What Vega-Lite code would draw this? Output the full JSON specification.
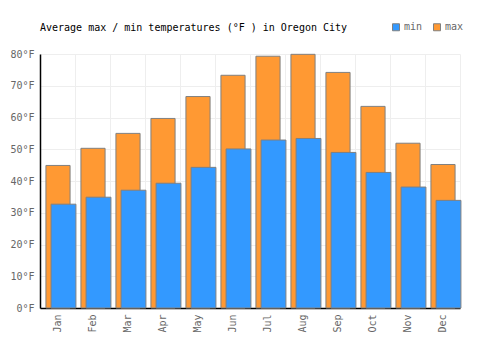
{
  "$schema": "https://vega.github.io/schema/vega-lite/v6.json",
  "autosize": {"type": "none"},
  "width": 420,
  "height": 254,
  "padding": {"left": 40, "top": 54, "right": 40, "bottom": 42},
  "background": "white",
  "title": {
    "text": "Average max / min temperatures (°F ) in Oregon City",
    "anchor": "start",
    "frame": "group",
    "orient": "top",
    "offset": -11,
    "font": "DejaVu Sans Mono",
    "fontSize": 10,
    "fontWeight": "normal",
    "color": "#000000"
  },
  "data": {
    "values": [
      {"month": "Jan", "series": "max", "temp": 44.9}, {"month": "Jan", "series": "min", "temp": 32.7},
      {"month": "Feb", "series": "max", "temp": 50.3}, {"month": "Feb", "series": "min", "temp": 34.9},
      {"month": "Mar", "series": "max", "temp": 55.0}, {"month": "Mar", "series": "min", "temp": 37.1},
      {"month": "Apr", "series": "max", "temp": 59.7}, {"month": "Apr", "series": "min", "temp": 39.3},
      {"month": "May", "series": "max", "temp": 66.6}, {"month": "May", "series": "min", "temp": 44.3},
      {"month": "Jun", "series": "max", "temp": 73.3}, {"month": "Jun", "series": "min", "temp": 50.1},
      {"month": "Jul", "series": "max", "temp": 79.3}, {"month": "Jul", "series": "min", "temp": 52.9},
      {"month": "Aug", "series": "max", "temp": 79.9}, {"month": "Aug", "series": "min", "temp": 53.4},
      {"month": "Sep", "series": "max", "temp": 74.2}, {"month": "Sep", "series": "min", "temp": 49.0},
      {"month": "Oct", "series": "max", "temp": 63.5}, {"month": "Oct", "series": "min", "temp": 42.7},
      {"month": "Nov", "series": "max", "temp": 51.9}, {"month": "Nov", "series": "min", "temp": 38.1},
      {"month": "Dec", "series": "max", "temp": 45.2}, {"month": "Dec", "series": "min", "temp": 33.9}
    ]
  },
  "encoding": {
    "x": {
      "field": "month", "type": "nominal", "sort": null,
      "scale": {"paddingInner": 0, "paddingOuter": 0},
      "axis": {
        "title": null, "labelAngle": 270, "ticks": false, "tickBand": "extent",
        "grid": true, "gridColor": "#eeeeee", "gridWidth": 1,
        "domainColor": "#000000", "domainWidth": 1.5,
        "labelFont": "DejaVu Sans Mono", "labelFontSize": 10, "labelColor": "#666666",
        "labelPadding": 6
      }
    },
    "y": {
      "field": "temp", "type": "quantitative",
      "scale": {"domain": [0, 80], "nice": false},
      "axis": {
        "title": null, "values": [0, 10, 20, 30, 40, 50, 60, 70, 80],
        "labelExpr": "datum.value + '°F'", "ticks": false,
        "grid": true, "gridColor": "#eeeeee", "gridWidth": 1,
        "domainColor": "#000000", "domainWidth": 1.5,
        "labelFont": "DejaVu Sans Mono", "labelFontSize": 10, "labelColor": "#666666",
        "labelPadding": 6
      }
    },
    "color": {
      "field": "series", "type": "nominal",
      "scale": {"domain": ["min", "max"], "range": ["#3399FF", "#FF9933"]},
      "legend": {
        "title": null, "orient": "none", "legendX": 351, "legendY": -32,
        "direction": "horizontal", "symbolType": "square", "symbolSize": 49,
        "symbolStrokeColor": "#808080", "symbolStrokeWidth": 1, "symbolOpacity": 1,
        "labelFont": "DejaVu Sans Mono", "labelFontSize": 10, "labelColor": "#666666",
        "labelOffset": 3, "columnPadding": 8, "padding": 0
      }
    }
  },
  "layer": [
    {
      "transform": [{"filter": "datum.series === 'max'"}],
      "mark": {"type": "bar", "width": {"band": 0.69}, "xOffset": 0.5, "stroke": "#808080", "strokeWidth": 1, "opacity": 1}
    },
    {
      "transform": [{"filter": "datum.series === 'min'"}],
      "mark": {"type": "bar", "width": {"band": 0.71}, "xOffset": 6, "stroke": "#808080", "strokeWidth": 1, "opacity": 1}
    }
  ],
  "config": {"view": {"stroke": null}}
}
